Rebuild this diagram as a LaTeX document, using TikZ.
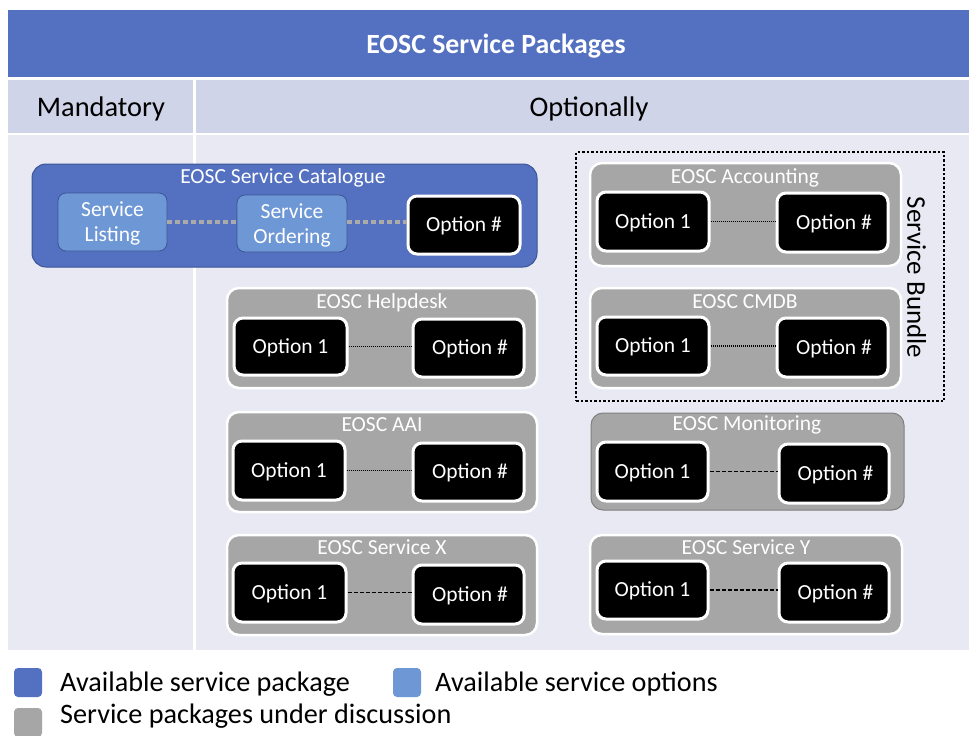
\documentclass[tikz,border=0pt]{standalone}
\usepackage{fontspec}
\setmainfont{Carlito}
\definecolor{titleblue}{RGB}{84,112,192}
\definecolor{headc}{RGB}{207,212,232}
\definecolor{bodyc}{RGB}{232,233,243}
\definecolor{lightblue}{RGB}{110,152,213}
\definecolor{grayc}{RGB}{166,166,166}
\definecolor{borderblue}{RGB}{60,85,150}
\definecolor{dotgray}{RGB}{170,170,170}
\tikzset{
  grp/.style={rounded corners=12pt, fill=grayc, draw=white, line width=2.5pt, inner sep=0pt},
  grpdark/.style={rounded corners=12pt, fill=grayc, draw=black!50, line width=1pt, inner sep=0pt},
  opt/.style={rounded corners=9pt, fill=black, draw=white, line width=3pt, text=white, inner sep=0pt, text height=13.8pt, text depth=0pt, font=\fontsize{21.5}{24}\selectfont},
  grptitle/.style={text=white, inner sep=0pt, text height=13.8pt, text depth=0pt, font=\fontsize{21.5}{24}\selectfont},
  svc/.style={rounded corners=8pt, fill=lightblue, draw=borderblue, line width=0.8pt, text=white, align=center, inner sep=0pt, font=\fontsize{21.5}{25}\selectfont},
  dotlink/.style={line width=1.1pt, dash pattern=on 1pt off 1pt, black},
  dashlink/.style={line width=1.1pt, dash pattern=on 4pt off 2pt, black},
  catlink/.style={line width=4.5pt, dash pattern=on 5pt off 3pt, dotgray},
  legsq/.style={rounded corners=4pt, minimum width=28pt, minimum height=29pt, inner sep=0pt},
  legtxt/.style={anchor=west, inner sep=0pt, text height=18.1pt, text depth=0pt, font=\fontsize{28.2}{32}\selectfont},
  headtxt/.style={inner sep=0pt, text height=18.2pt, text depth=0pt, font=\fontsize{28.4}{30}\selectfont},
}
\begin{document}
\begin{tikzpicture}[x=1pt,y=-1pt]
\useasboundingbox (0,0) rectangle (969,736);
\fill[white] (0,0) rectangle (969,736);
% table backgrounds
\fill[titleblue] (8,10) rectangle (969,77);
\fill[headc] (8,80) rectangle (193,133);
\fill[headc] (196,80) rectangle (969,133);
\fill[bodyc] (8,135) rectangle (193,650);
\fill[bodyc] (196,135) rectangle (969,650);
\node[text=white, inner sep=0pt, text height=17.5pt, text depth=0pt, font=\fontsize{27.8}{30}\selectfont\bfseries] (title) at (496,44.5) {EOSC Service Packages};
\node[headtxt] (mand) at (101,107) {Mandatory};
\node[headtxt] (optl) at (589,107) {Optionally};

% catalogue
\node[rounded corners=14pt, fill=titleblue, draw=borderblue, line width=1pt, minimum width=505pt, minimum height=103pt, inner sep=0pt] (cat) at (284.5,215.5) {};
\node[grptitle] (catt) at (283,176.5) {EOSC Service Catalogue};
\node[svc, minimum width=109pt, minimum height=58pt] (list) at (112.5,222) {};
\node[svc, draw=none, fill=none] (listt) at (112.5,223.5) {Service\\Listing};
\node[svc, minimum width=110pt, minimum height=57pt] (ord) at (292,223.5) {};
\node[svc, draw=none, fill=none] (ordt) at (292,225) {Service\\Ordering};
\node[opt, minimum width=112pt, minimum height=58pt] (catopt) at (464,225) {Option \#};
\draw[catlink] (list) -- (list -| ord.west);
\draw[catlink] (ord.east |- list) -- (catopt.west |- list);

% Helpdesk
\node[grp, minimum width=310pt, minimum height=100pt] (help) at (382,338) {};
\node[grptitle] (helpt) at (382,301.5) {EOSC Helpdesk};
\node[opt, minimum width=113pt, minimum height=57pt] (h1) at (290.5,346.5) {Option 1};
\node[opt, minimum width=111pt, minimum height=58pt] (hn) at (468.5,348) {\hspace{3pt}Option \#};
\draw[dotlink] (h1) -- (h1 -| hn.west);

% AAI
\node[grp, minimum width=310pt, minimum height=100pt] (aai) at (382,462) {};
\node[grptitle] (aait) at (382,424.5) {EOSC AAI};
\node[opt, minimum width=112pt, minimum height=59pt] (a1) at (289,470.5) {Option 1};
\node[opt, minimum width=111pt, minimum height=58pt] (an) at (468.5,472) {\hspace{3pt}Option \#};
\draw[dotlink] (a1) -- (a1 -| an.west);

% Service X
\node[grp, minimum width=310pt, minimum height=100pt] (sx) at (382,585) {};
\node[grptitle] (sxt) at (382,547.5) {EOSC Service X};
\node[opt, minimum width=113pt, minimum height=59pt] (x1) at (289.5,592.5) {Option 1};
\node[opt, minimum width=111pt, minimum height=59pt] (xn) at (468.5,594.5) {\hspace{3pt}Option \#};
\draw[dashlink] (x1) -- (x1 -| xn.west);

% Accounting
\node[grp, minimum width=311pt, minimum height=103pt] (acc) at (745.5,214.5) {};
\node[grptitle] (acct) at (745,176.5) {EOSC Accounting};
\node[opt, minimum width=112pt, minimum height=59pt] (ac1) at (653,221.5) {Option 1};
\node[opt, minimum width=111pt, minimum height=59pt] (acn) at (832.5,222.5) {\hspace{3pt}Option \#};
\draw[dotlink] (ac1) -- (ac1 -| acn.west);

% CMDB
\node[grp, minimum width=311pt, minimum height=100pt] (cmdb) at (745.5,338) {};
\node[grptitle] (cmdbt) at (745,301.5) {EOSC CMDB};
\node[opt, minimum width=112pt, minimum height=58pt] (c1) at (653,346) {Option 1};
\node[opt, minimum width=111pt, minimum height=59pt] (cn) at (832.5,347.5) {\hspace{3pt}Option \#};
\draw[dotlink] (c1) -- (c1 -| cn.west);

% Service bundle
\node[draw=black, line width=2.5pt, dash pattern=on 2.5pt off 2pt, minimum width=368pt, minimum height=249pt, inner sep=0pt] (bundle) at (760,276.5) {};
\node[rotate=-90, inner sep=0pt, text height=17.3pt, text depth=0pt, font=\fontsize{27}{30}\selectfont] (bundlet) at (916,277.5) {Service Bundle};

% Monitoring
\node[grpdark, minimum width=313pt, minimum height=97pt] (mon) at (747.5,461.5) {};
\node[grptitle] (mont) at (747,423.5) {EOSC Monitoring};
\node[opt, minimum width=111pt, minimum height=59pt] (m1) at (652.5,471.5) {Option 1};
\node[opt, minimum width=110pt, minimum height=59pt] (mn) at (834,473.5) {\hspace{3pt}Option \#};
\draw[dashlink] (m1) -- (m1 -| mn.west);

% Service Y
\node[grp, minimum width=312pt, minimum height=99pt] (sy) at (746,584.5) {};
\node[grptitle] (syt) at (746,547.5) {EOSC Service Y};
\node[opt, minimum width=111pt, minimum height=58pt] (y1) at (652.5,590) {Option 1};
\node[opt, minimum width=110pt, minimum height=59pt] (yn) at (834,592.5) {\hspace{3pt}Option \#};
\draw[dashlink] (y1) -- (y1 -| yn.west);

% legend
\node[legsq, fill=titleblue] (lg1) at (28,682.5) {};
\node[legtxt] (lg1t) at (60,682.5) {Available service package};
\node[legsq, fill=lightblue] (lg2) at (407,682.5) {};
\node[legtxt] (lg2t) at (435,682.5) {Available service options};
\node[legsq, fill=grayc] (lg3) at (28,722.5) {};
\node[legtxt] (lg3t) at (60,714.5) {Service packages under discussion};
\end{tikzpicture}
\end{document}
